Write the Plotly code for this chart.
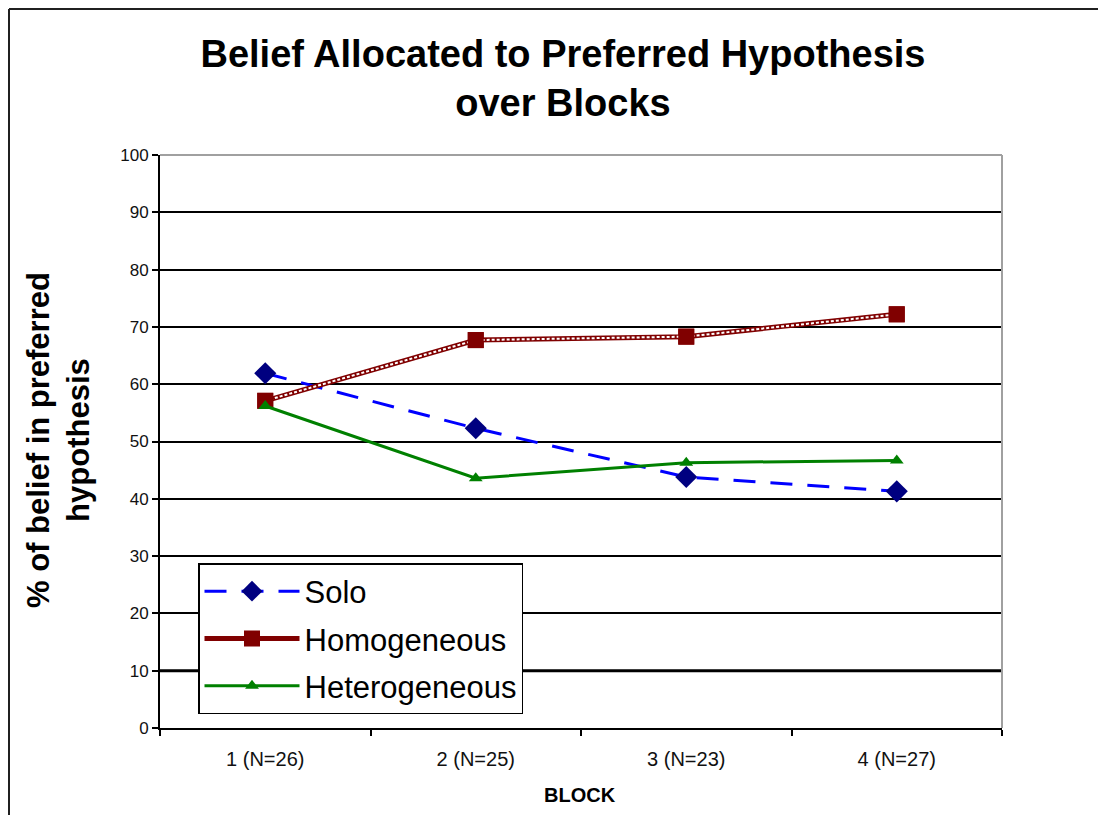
import plotly.graph_objects as go

blocks = ["1 (N=26)", "2 (N=25)", "3 (N=23)", "4 (N=27)"]
solo = [61.9, 52.3, 43.8, 41.3]
homogeneous = [57.1, 67.7, 68.3, 72.2]
heterogeneous = [56.2, 43.6, 46.3, 46.7]
y_ticks = list(range(0, 101, 10))

OFF = 8  # page body margin
W, H = 1106 - OFF, 815 - OFF
L, R, T, B = 160 - OFF, 104, 155 - OFF, 87
pw, ph = 1002 - 160, 728 - 155

def px(x):
    return (x - 160) / pw

def py(y):
    return (728 - y) / ph

FONT = "Liberation Sans, Arial, sans-serif"

fig = go.Figure()

fig.add_trace(go.Scatter(
    x=blocks, y=solo, name="Solo", mode="lines+markers",
    line=dict(color="#0000FF", width=3, dash="22px,15px"),
    marker=dict(symbol="diamond", size=17, color="#000080"),
    legendgroup="a",
))
fig.add_trace(go.Scatter(
    x=blocks, y=homogeneous, name="Homogeneous", mode="lines+markers",
    line=dict(color="#800000", width=5),
    marker=dict(symbol="square", size=16, color="#800000"),
    legendgroup="b",
))
fig.add_trace(go.Scatter(
    x=blocks, y=homogeneous, mode="lines", showlegend=False, hoverinfo="skip",
    line=dict(color="white", width=2, dash="3px,2px"),
))
fig.add_trace(go.Scatter(
    x=blocks, y=homogeneous, mode="markers", showlegend=False, hoverinfo="skip",
    marker=dict(symbol="square", size=16, color="#800000"),
))
fig.add_trace(go.Scatter(
    x=blocks, y=heterogeneous, name="Heterogeneous", mode="lines+markers",
    line=dict(color="#008000", width=3),
    marker=dict(symbol="triangle-up", size=12, color="#008000"),
    legendgroup="c",
))

shapes = [
    dict(type="line", xref="paper", yref="y", x0=0, x1=1, y0=10, y1=10,
         line=dict(color="black", width=3), layer="above"),
    dict(type="line", xref="paper", yref="paper", x0=0, x1=1, y0=1, y1=1,
         line=dict(color="#A0A0A0", width=2)),
    dict(type="line", xref="paper", yref="paper", x0=1, x1=1, y0=0, y1=1,
         line=dict(color="#A0A0A0", width=2)),
    dict(type="line", xref="paper", yref="paper", x0=px(9), x1=px(1200), y0=py(9), y1=py(9),
         line=dict(color="#202020", width=2)),
    dict(type="line", xref="paper", yref="paper", x0=px(9), x1=px(9), y0=py(9), y1=py(900),
         line=dict(color="#202020", width=2)),
]

annotations = [
    dict(text="<b>% of belief in preferred<br>hypothesis</b>", textangle=-90,
         xref="paper", yref="paper", x=px(58), y=py(440), xanchor="center", yanchor="middle",
         showarrow=False, font=dict(family=FONT, size=31, color="black")),
    dict(text="<b>BLOCK</b>", xref="paper", yref="paper", x=px(580), y=py(795),
         xanchor="center", yanchor="middle", showarrow=False,
         font=dict(family=FONT, size=20, color="black")),
]

fig.update_layout(
    width=W, height=H,
    margin=dict(l=L, r=R, t=T, b=B),
    paper_bgcolor="white", plot_bgcolor="white",
    title=dict(text="<b>Belief Allocated to Preferred Hypothesis<br>over Blocks</b>",
               xref="container", yref="container", x=(563 - OFF) / W, y=1 - (67 - OFF) / H,
               xanchor="center", yanchor="middle",
               font=dict(family=FONT, size=38, color="black")),
    xaxis=dict(
        type="category", range=[-0.5, 3.5], showgrid=False,
        showline=True, linecolor="black", linewidth=2,
        ticks="outside", tickson="boundaries", ticklen=6, tickcolor="black", tickwidth=1.5,
        ticklabelstandoff=12,
        tickfont=dict(family=FONT, size=20, color="#111"),
        zeroline=False,
    ),
    yaxis=dict(
        range=[0, 100], tickvals=y_ticks,
        showgrid=True, gridcolor="black", gridwidth=1.5,
        showline=True, linecolor="black", linewidth=2,
        ticks="outside", ticklen=6, tickcolor="black", tickwidth=1.5,
        tickfont=dict(family=FONT, size=17, color="#111"),
        zeroline=False,
    ),
    legend=dict(
        x=px(198), y=py(563), xanchor="left", yanchor="top",
        bgcolor="white", bordercolor="black", borderwidth=1.5,
        font=dict(family=FONT, size=31, color="black"),
        itemwidth=95, tracegroupgap=4, traceorder="grouped",
    ),
    shapes=shapes,
    annotations=annotations,
    showlegend=True,
)

fig.write_html("out.html")
